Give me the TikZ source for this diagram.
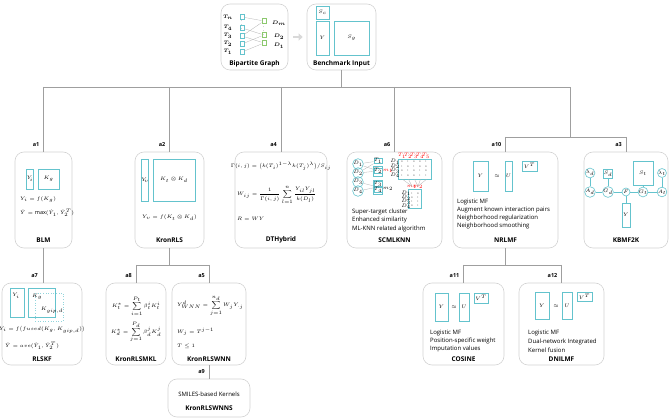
\documentclass[tikz,border=0pt]{standalone}
\usepackage{fontspec}
\setmainfont{Open Sans}
\usepackage{amsmath}
\usetikzlibrary{arrows.meta}
\definecolor{boxc}{RGB}{100,195,205}
\definecolor{dgreen}{RGB}{140,200,110}
\tikzset{
  card/.style={draw=gray!35, line width=0.6pt, rounded corners=9pt, inner sep=0pt},
  mat/.style={draw=boxc, line width=0.6pt, inner sep=0pt, font=\fontsize{5.5}{6}\selectfont},
  circ/.style={draw=boxc, line width=0.6pt, circle, inner sep=0pt, minimum size=8pt, font=\fontsize{4.5}{5}\selectfont},
  title/.style={font=\fontsize{6.5}{7}\selectfont\bfseries, inner sep=0pt},
  tag/.style={font=\fontsize{5.5}{6}\selectfont\bfseries, anchor=east, inner sep=0pt},
  txt/.style={font=\fontsize{6}{7}\selectfont, anchor=west, inner sep=0pt},
  eq/.style={font=\fontsize{5.5}{6}\selectfont, inner sep=0pt},
  tiny/.style={font=\fontsize{2.2}{2.4}\selectfont, inner sep=0pt},
  branch/.style={draw=gray!75, line width=0.6pt},
  link/.style={draw=gray!60, line width=0.3pt}
}
\begin{document}
\begin{tikzpicture}[x=1pt, y=-1pt]
  \useasboundingbox (0,0) rectangle (670,419);

  % top row
  \node[card, minimum width=67, minimum height=66] (bip) at (254.5,37) {};
  \node[card, minimum width=69, minimum height=66] (bench) at (341.5,37) {};
  \node[title] (bipt) at (254.5,64) {Bipartite Graph};
  \node[title] (bencht) at (341.5,64) {Benchmark Input};
  \draw[-{Triangle[length=4pt,width=7pt]}, line width=2.5pt, gray!30]
    ([xshift=5pt]bip.east) -- ([xshift=-4pt]bench.west);

  \foreach \n/\y in {n/17, 4/28, 3/36, 2/44, 1/52} {
    \node[eq] (tl\n) at (228,\y) {$\boldsymbol{T_{\n}}$};
    \node[draw=boxc, line width=0.5pt, minimum size=4.5pt, inner sep=0pt] (t\n) at (242,\y) {};
  }
  \foreach \n/\y in {m/21, 2/35, 1/43} {
    \node[draw=dgreen, line width=0.5pt, minimum size=4.5pt, inner sep=0pt] (d\n) at (264,\y) {};
  }
  \node[eq] (dlm) at (279,23) {$\boldsymbol{D_m}$};
  \node[eq] (dl2) at (279,37) {$\boldsymbol{D_2}$};
  \node[eq] (dl1) at (279,46) {$\boldsymbol{D_1}$};
  \node[tiny, font=\fontsize{4}{4}\selectfont] (vt) at (242,22.5) {$\vdots$};
  \node[tiny, font=\fontsize{4}{4}\selectfont] (vd) at (264,28) {$\vdots$};
  \begin{scope}[link]
    \draw (tn) to (dm);
    \draw (t3) to (dm);
    \draw (t3) to (d1);
    \draw (t4) to (d2);
    \draw (t2) to (d2);
    \draw (t1) to (d1);
  \end{scope}

  \node[mat, minimum width=13, minimum height=13] (sc) at (322.5,12.5) {$S_c$};
  \node[mat, minimum width=13, minimum height=34] (yb) at (322.5,38) {$Y$};
  \node[mat, minimum width=35, minimum height=34] (sg) at (351.5,38) {$S_g$};

  % first level
  \node[card, minimum width=57, minimum height=96] (blm) at (43.5,200) {};
  \node[card, minimum width=69, minimum height=96] (kron) at (169.5,200) {};
  \node[card, minimum width=92, minimum height=96] (dth) at (281,200) {};
  \node[card, minimum width=95, minimum height=96] (scm) at (394.5,200) {};
  \node[card, minimum width=105, minimum height=96] (nrl) at (505.5,200) {};
  \node[card, minimum width=84, minimum height=96] (kbm) at (626,200) {};

  \coordinate (hub) at (343,87);
  \coordinate (rj) at (570,87);
  \coordinate (rj2) at (570,137);
  \draw[branch] (bench.south) -- (bench.south |- hub);
  \draw[branch] (blm.north |- hub) -- (rj) -- (rj2);
  \draw[branch] (nrl.north |- rj2) -- (kbm.north |- rj2);
  \foreach \n in {blm,kron,dth,scm} \draw[branch] (\n.north |- hub) -- (\n.north);
  \foreach \n in {nrl,kbm} \draw[branch] (\n.north |- rj2) -- (\n.north);
  \foreach \n/\t in {blm/a1, kron/a2, dth/a4, scm/a6, nrl/a10, kbm/a3}
    \node[tag] (tag\n) at ([xshift=-4pt, yshift=7pt]\n.north) {\t};
  \foreach \n/\t in {blm/BLM, kron/KronRLS, dth/DTHybrid, scm/SCMLKNN, nrl/NRLMF, kbm/KBMF2K}
    \node[title] (tt\n) at ([yshift=8pt]\n.south) {\t};

  % BLM
  \node[mat, minimum width=7, minimum height=20] (blmy) at (30,179) {$Y_{\!i}$};
  \node[mat, minimum width=21, minimum height=20] (blmk) at (48.5,179) {$K_g$};
  \node[eq, anchor=west] (blme1) at (20,199.5) {$Y_i=f(K_g)$};
  \node[eq, anchor=west] (blme2) at (20,213) {$\hat{Y}=\max(\hat{Y}_1,\hat{Y}_2^T)$};

  % KronRLS
  \node[mat, minimum width=6, minimum height=42] (krony) at (145,180) {$Y_{\!v}$};
  \node[mat, minimum width=42, minimum height=42] (kronk) at (174,180) {$K_t\otimes K_d$};
  \node[eq] (krone) at (169.5,218) {$Y_v=f(K_t\otimes K_d)$};

  % DTHybrid
  \node[eq] (dthe1) at (281,166) {$\Gamma(i,j)=\bigl(k(T_i)^{1-\lambda}k(T_j)^{\lambda}\bigr)/S_{ij}$};
  \node[eq, anchor=west] (dthe2) at (237,195) {$\displaystyle W_{ij}=\frac{1}{\Gamma(i,j)}\sum_{l=1}^{n}\frac{Y_{il}Y_{jl}}{k(D_l)}$};
  \node[eq, anchor=west] (dthe3) at (237,219) {$R=WY$};

  % SCMLKNN
  \foreach \i/\y in {1/164, 2/173, 3/182, 4/191}
    \node[circ, minimum size=5.5pt, tiny] (sd\i) at (358,\y) {$D_{\i}$};
  \foreach \i/\y in {1/161, 2/171, 3/184, 4/190}
    \node[mat, minimum width=6, minimum height=5, tiny] (st\i) at (378,\y) {$T_{\i}$};
  \node[mat, minimum width=9, minimum height=10] (sg1) at (378,171) {};
  \node[mat, minimum width=9, minimum height=14] (sg2) at (378,187) {};
  \node[tiny, font=\fontsize{3.5}{4}\selectfont, text=red] (sm1) at (388,171) {$m_1$};
  \node[tiny, font=\fontsize{3.5}{4}\selectfont] (sm2) at (388,189) {$m_2$};
  \begin{scope}[link]
    \draw (sd1) to (st1);
    \draw (sd1) to (sg1);
    \draw (sd2) to (sg1);
    \draw (sd3) to (sg2);
    \draw (sd4) to (sg2);
    \draw (sd2) to (st1);
  \end{scope}
  \node[mat, minimum width=33, minimum height=20] (tab) at (414.5,169) {};
  \foreach \j in {1,...,5}
    \node[tiny, text=red] (th\j) at (402+6*\j-6,156) {$T_{\j}$};
  \foreach \i/\row in {1/{0,1,0,0,1}, 2/{1,0,1,0,0}, 3/{0,1,0,1,0}, 4/{1,0,0,1,1}} {
    \node[tiny] (tr\i) at (395,157.5+4.5*\i) {$D_{\i}$};
    \foreach \v [count=\j] in \row
      \node[tiny] (tv\i\j) at (402+6*\j-6,157.5+4.5*\i) {\v};
  }
  \node[mat, minimum width=13, minimum height=19] (res) at (415,199) {};
  \node[tiny, text=red] (rh1) at (412,187) {$m_1$};
  \node[tiny, text=red] (rh2) at (418,187) {$m_2$};
  \foreach \i/\a/\b in {1/1/0, 2/0/1, 3/1/1, 4/0/1} {
    \node[tiny] (rr\i) at (406,189+4.3*\i) {$D_{\i}$};
    \node[tiny] (ra\i) at (412,189+4.3*\i) {\a};
    \node[tiny] (rb\i) at (418,189+4.3*\i) {\b};
  }
  \foreach \s/\e in {-12/-3, -6/-3, 0/3, 6/3, 12/3}
    \draw[link] ([xshift=\s pt]tab.south) -- ([xshift=\e pt, yshift=3pt]res.north);
  \node[txt] (scmt1) at (352,212) {Super-target cluster};
  \node[txt] (scmt2) at (352,220) {Enhanced similarity};
  \node[txt] (scmt3) at (352,229) {ML-KNN related algorithm};

  % NRLMF
  \node[mat, minimum width=15, minimum height=30] (nrly) at (480.5,176) {$Y$};
  \node[eq] (nrla) at (497,176) {$\approx$};
  \node[mat, minimum width=7, minimum height=30] (nrlu) at (508.5,176) {$U$};
  \node[mat, minimum width=15, minimum height=10] (nrlv) at (529.5,166) {$V^T$};
  \node[txt] (nrlt1) at (457,202) {Logistic MF};
  \node[txt] (nrlt2) at (457,210) {Augment known interaction pairs};
  \node[txt] (nrlt3) at (457,218) {Neighborhood regularization};
  \node[txt] (nrlt4) at (457,226) {Neighborhood smoothing};

  % KBMF2K
  \node[circ] (lamd) at (590,173) {$\lambda_d$};
  \node[circ] (ad) at (590,192) {$A_d$};
  \node[mat, minimum size=9pt, font=\fontsize{4.5}{5}\selectfont] (sdk) at (608,174) {$S_d$};
  \node[circ] (gd) at (608,192) {$G_d$};
  \node[circ] (fk) at (626,192) {$F$};
  \node[mat, minimum width=20, minimum height=24] (stk) at (643,173) {$S_t$};
  \node[circ] (gt) at (643,192) {$G_t$};
  \node[circ] (lamt) at (662,173) {$\lambda_t$};
  \node[circ] (at) at (662,192) {$A_t$};
  \node[mat, minimum width=8, minimum height=24] (yk) at (626,215) {$Y$};
  \begin{scope}[draw=boxc, line width=0.6pt]
    \draw (lamd) to (ad);
    \draw (ad) to (gd);
    \draw (sdk) to (gd);
    \draw (gd) to (fk);
    \draw (fk) to (gt);
    \draw (stk) to (gt);
    \draw (gt) to (at);
    \draw (lamt) to (at);
    \draw (fk) to (yk);
  \end{scope}

  % second level
  \node[card, minimum width=80, minimum height=82] (rls) at (42,324) {};
  \node[card, minimum width=60, minimum height=82] (mkl) at (136,324) {};
  \node[card, minimum width=74, minimum height=82] (wnn) at (209,324) {};
  \node[card, minimum width=81, minimum height=82] (cos) at (463.5,324) {};
  \node[card, minimum width=85, minimum height=82] (dni) at (561.5,324) {};
  \node[card, minimum width=82, minimum height=38] (wnns) at (209,398) {};

  \coordinate (kj) at (169.5,265);
  \coordinate (nj) at (505.5,265);
  \draw[branch] (blm.south) -- (blm.south |- rls.north);
  \draw[branch] (kron.south) -- (kj);
  \draw[branch] (mkl.north |- kj) -- (wnn.north |- kj);
  \draw[branch] (nrl.south) -- (nj);
  \draw[branch] (cos.north |- nj) -- (dni.north |- nj);
  \foreach \n in {mkl,wnn} \draw[branch] (\n.north |- kj) -- (\n.north);
  \foreach \n in {cos,dni} \draw[branch] (\n.north |- nj) -- (\n.north);
  \draw[branch] (wnn.south) -- (wnns.north);
  \foreach \n/\t in {rls/a7, mkl/a8, wnn/a5, cos/a11, dni/a12, wnns/a9}
    \node[tag] (tag\n) at ([xshift=-4pt, yshift=7pt]\n.north) {\t};
  \foreach \n/\t in {rls/RLSKF, mkl/KronRLSMKL, wnn/KronRLSWNN, cos/COSINE, dni/DNILMF}
    \node[title] (tt\n) at ([yshift=6pt]\n.south) {\t};
  \node[title] (ttwnns) at ([yshift=9pt]wnns.south) {KronRLSWNNS};
  \node[eq, font=\fontsize{6}{7}\selectfont] (wnnst) at (209,394) {SMILES-based Kernels};

  % RLSKF
  \node[mat, minimum width=14, minimum height=29] (rlsy) at (17,302.5) {};
  \node[eq] (rlsyl) at (16,296) {$Y_i$};
  \node[mat, minimum width=27, minimum height=29] (rlsk) at (41.5,302.5) {};
  \node[mat, dotted, draw=boxc!70, minimum width=28, minimum height=28] (rlsg) at (49,307) {};
  \node[eq] (rlskl) at (37,297) {$K_g$};
  \node[eq] (rlsgl) at (52,310) {$K_{gip,d}$};
  \node[eq, font=\fontsize{5}{6}\selectfont] (rlse1) at (42,329.5) {$Y_i=f\bigl(fused(K_g,K_{gip,d})\bigr)$};
  \node[eq, anchor=west] (rlse2) at (5,346) {$\hat{Y}=ave(\hat{Y}_1,\hat{Y}_2^T)$};

  % KronRLSMKL
  \node[eq] (mkle1) at (136,306) {$\displaystyle K_t^*=\sum_{i=1}^{P_t}\beta_t^iK_t^i$};
  \node[eq] (mkle2) at (136,332) {$\displaystyle K_d^*=\sum_{j=1}^{P_d}\beta_d^jK_d^j$};

  % KronRLSWNN
  \node[eq, anchor=west] (wnne1) at (177,306) {$\displaystyle Y_{WNN}^d=\sum_{j=1}^{n_d}W_jY_{\cdot j}$};
  \node[eq, anchor=west] (wnne2) at (177,332) {$W_j=T^{j-1}$};
  \node[eq, anchor=west] (wnne3) at (177,346) {$T\le 1$};

  % COSINE
  \node[mat, minimum width=13, minimum height=28] (cosy) at (441.5,307) {$Y$};
  \node[eq] (cosa) at (454,307) {$\approx$};
  \node[mat, minimum width=10, minimum height=28] (cosu) at (464,307) {$U$};
  \node[mat, minimum width=14, minimum height=10] (cosv) at (481,298) {$V^T$};
  \node[txt] (cost1) at (430,333) {Logistic MF};
  \node[txt] (cost2) at (430,341) {Position-specific weight};
  \node[txt] (cost3) at (430,348.5) {Imputation values};

  % DNILMF
  \node[mat, minimum width=14, minimum height=27] (dniy) at (542,305.5) {$Y$};
  \node[eq] (dnia) at (556,306) {$\approx$};
  \node[mat, minimum width=10, minimum height=27] (dniu) at (567,305.5) {$U$};
  \node[mat, minimum width=15, minimum height=9] (dniv) at (584.5,296.5) {$V^T$};
  \node[txt] (dnit1) at (528,333) {Logistic MF};
  \node[txt] (dnit2) at (528,342) {Dual-network Integrated};
  \node[txt] (dnit3) at (528,350) {Kernel fusion};
\end{tikzpicture}
\end{document}
